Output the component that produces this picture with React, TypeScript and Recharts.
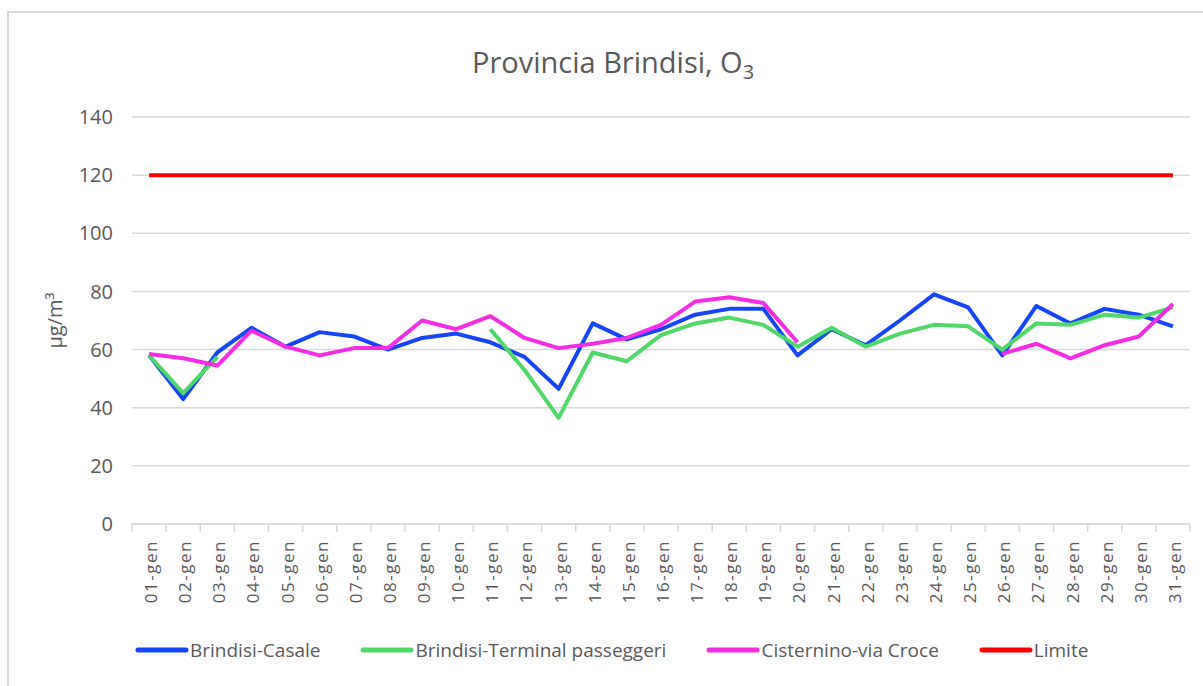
import { LineChart, Line, XAxis, YAxis, CartesianGrid, Legend } from 'recharts'

const days = [
  '01-gen', '02-gen', '03-gen', '04-gen', '05-gen', '06-gen', '07-gen', '08-gen', '09-gen', '10-gen',
  '11-gen', '12-gen', '13-gen', '14-gen', '15-gen', '16-gen', '17-gen', '18-gen', '19-gen', '20-gen',
  '21-gen', '22-gen', '23-gen', '24-gen', '25-gen', '26-gen', '27-gen', '28-gen', '29-gen', '30-gen', '31-gen',
]

const casale = [58, 43, 59, 67.5, 61, 66, 64.5, 60, 64, 65.5, 62.5, 57.5, 46.5, 69, 63.5, 67, 72, 74, 74, 58, 67, 61.5, 70, 79, 74.5, 58, 75, 69, 74, 72, 68]
const terminal = [58, 45, 57.5, null, null, null, null, null, null, null, 67, 53, 36.5, 59, 56, 65, 69, 71, 68.5, 61, 67.5, 61, 65.5, 68.5, 68, 60, 69, 68.5, 72, 71, 74.5]
const cisternino = [58.5, 57, 54.5, 66.5, 61, 58, 60.5, 60.5, 70, 67, 71.5, 64, 60.5, 62, 64, 68.5, 76.5, 78, 76, 62.5, null, null, null, null, null, 58.5, 62, 57, 61.5, 64.5, 75.7]
const limite = days.map(() => 120)

const yTicks = [0, 20, 40, 60, 80, 100, 120, 140]

const series = [
  { key: 'casale', name: 'Brindisi-Casale', color: '#1446f7' },
  { key: 'terminal', name: 'Brindisi-Terminal passeggeri', color: '#4fd868' },
  { key: 'cisternino', name: 'Cisternino-via Croce', color: '#f22de4' },
  { key: 'limite', name: 'Limite', color: '#ff0000' },
]

const data = days.map((d, i) => ({
  day: d,
  casale: casale[i],
  terminal: terminal[i],
  cisternino: cisternino[i],
  limite: limite[i],
}))

const W = 1203
const H = 686
const margin = { top: 117, right: 13, left: 40, bottom: 0 }
const Y_AXIS_W = 92
const BW = (W - margin.left - Y_AXIS_W - margin.right) / days.length
const FONT = '"Open Sans", sans-serif'
const TXT = '#595959'
const GRID = '#d9d9d9'

function DayTick(props: any) {
  const { x, y, payload, index } = props
  return (
    <g>
      <line x1={x - BW / 2} x2={x - BW / 2} y1={y} y2={y + 8} stroke={GRID} strokeWidth={1.5} />
      {index === days.length - 1 && (
        <line x1={x + BW / 2} x2={x + BW / 2} y1={y} y2={y + 8} stroke={GRID} strokeWidth={1.5} />
      )}
      <text
        transform={`translate(${x + 2},${y}) rotate(-90)`}
        x={-16}
        y={0}
        dy="0.35em"
        textAnchor="end"
        fill={TXT}
        fontSize={17}
        letterSpacing={1.5}
        fontFamily={FONT}
      >
        {payload.value}
      </text>
    </g>
  )
}

function LegendContent() {
  return (
    <div style={{ display: 'flex', alignItems: 'center', gap: 40, paddingLeft: 135, fontFamily: FONT, fontSize: 19, color: TXT }}>
      {series.map(s => (
        <div key={s.key} style={{ display: 'flex', alignItems: 'center' }}>
          <svg width={54} height={8}>
            <line x1={3} x2={51} y1={4} y2={4} stroke={s.color} strokeWidth={5} strokeLinecap="round" />
          </svg>
          <span style={{ marginLeft: 1 }}>{s.name}</span>
        </div>
      ))}
    </div>
  )
}

export default function App() {
  return (
    <div style={{ position: 'absolute', left: 0, top: 0, width: W, height: H, overflow: 'hidden', background: '#fff' }}>
      <div style={{ position: 'absolute', left: 7, top: 11, width: W, height: H, borderLeft: `2px solid ${GRID}`, borderTop: `2px solid ${GRID}` }} />
      <div style={{ position: 'absolute', left: 313, width: 600, top: 47, textAlign: 'center', fontFamily: FONT, fontSize: 29, lineHeight: '29px', color: TXT }}>
        Provincia Brindisi, O<sub style={{ fontSize: 20, verticalAlign: '-6px' }}>3</sub>
      </div>
      <div style={{ position: 'absolute', left: 0, top: 0 }}>
        <LineChart width={W} height={H} data={data} margin={margin}>
          <CartesianGrid vertical={false} stroke={GRID} strokeWidth={1.5} />
          <XAxis
            dataKey="day"
            scale="band"
            interval={0}
            height={H - 524}
            tickLine={false}
            tickSize={0}
            tickMargin={0}
            axisLine={{ stroke: GRID, strokeWidth: 1.5 }}
            tick={<DayTick />}
          />
          <YAxis
            domain={[0, 140]}
            ticks={yTicks}
            width={Y_AXIS_W}
            axisLine={false}
            tickLine={false}
            tickSize={0}
            tickMargin={19}
            tick={{ fill: TXT, fontSize: 20, fontFamily: FONT }}
            label={{
              value: 'µg/m³',
              content: (p: any) => {
                const cy = p.viewBox.y + p.viewBox.height / 2
                return (
                  <text x={62} y={cy} transform={`rotate(-90, 62, ${cy})`} textAnchor="middle" fill={TXT} fontSize={20} fontFamily={FONT}>
                    µg/m³
                  </text>
                )
              },
            }}
          />
          <Legend
            verticalAlign="middle"
            align="center"
            content={<LegendContent />}
            wrapperStyle={{ left: 0, top: 637, width: W }}
          />
          {series.map(s => (
            <Line
              key={s.key}
              dataKey={s.key}
              name={s.name}
              stroke={s.color}
              strokeWidth={4}
              strokeLinejoin="round"
              dot={false}
              activeDot={false}
              isAnimationActive={false}
            />
          ))}
        </LineChart>
      </div>
    </div>
  )
}
